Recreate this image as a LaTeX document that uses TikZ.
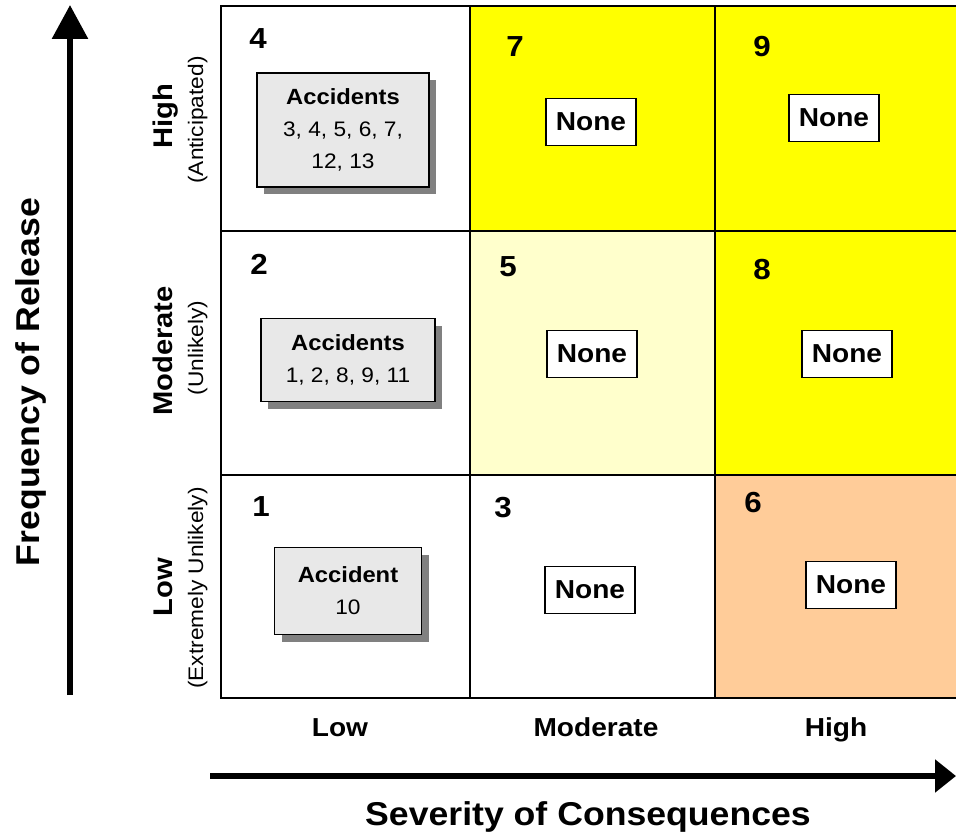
\documentclass[tikz,border=0pt]{standalone}
\usepackage{fontspec}
\setmainfont{Liberation Sans}[FakeStretch=1.08]
\usetikzlibrary{arrows.meta,shadows}
\definecolor{yel}{HTML}{FFFF00}
\definecolor{lyel}{HTML}{FFFFCC}
\definecolor{peach}{HTML}{FFCC99}
\definecolor{boxgray}{HTML}{E8E8E8}
\definecolor{shadowgray}{HTML}{808080}
\begin{document}
\begin{tikzpicture}[x=1pt,y=-1pt,
  gridline/.style={draw=black,line width=2.5pt},
  num/.style={font=\fontsize{29}{30}\selectfont\bfseries,inner sep=0pt},
  acc/.style={draw=black,line width=1.8pt,fill=boxgray,align=center,inner sep=0pt,
    general shadow={fill=shadowgray,shadow xshift=7pt,shadow yshift=-7pt},
    font=\fontsize{21}{32}\selectfont},
  nonebox/.style={draw=black,line width=1.8pt,fill=white,minimum width=90pt,minimum height=47pt,
    inner sep=0pt,font=\fontsize{26}{28}\selectfont\bfseries},
  rowlab/.style={rotate=90,anchor=base,inner sep=0pt,font=\fontsize{27}{29}\selectfont\bfseries},
  rowsub/.style={rotate=90,anchor=base,inner sep=0pt,font=\fontsize{21}{23}\selectfont},
  collab/.style={anchor=base,inner sep=0pt,font=\fontsize{26}{28}\selectfont\bfseries},
  axlab/.style={anchor=base,inner sep=0pt,font=\fontsize{33}{35}\selectfont\bfseries},
  axisline/.style={line width=6pt}
]
\useasboundingbox (0,0) rectangle (956,832);
\fill[white] (0,0) rectangle (956,832);
% cell fills
\fill[yel] (470,6) rectangle (958,231);
\fill[lyel] (470,231) rectangle (715,475);
\fill[yel] (715,231) rectangle (958,475);
\fill[peach] (715,475) rectangle (958,698);
% grid
\draw[gridline] (221,6) rectangle (958,698);
\draw[gridline] (470,6) -- (470,698);
\draw[gridline] (715,6) -- (715,698);
\draw[gridline] (221,231) -- (958,231);
\draw[gridline] (221,475) -- (958,475);
% cell numbers
\node[num] (n4) at (258,39) {4};
\node[num] (n7) at (515,47) {7};
\node[num] (n9) at (762,47) {9};
\node[num] (n2) at (259,264) {2};
\node[num] (n5) at (508,267) {5};
\node[num] (n8) at (762,270) {8};
\node[num] (n1) at (261,507) {1};
\node[num] (n3) at (503,508) {3};
\node[num] (n6) at (753,503) {6};
% accident boxes
\node[acc,minimum width=172pt,minimum height=114pt] (a4) at (343,130)
  {{\bfseries\fontsize{22}{32}\selectfont Accidents}\\3, 4, 5, 6, 7,\\12, 13};
\node[acc,minimum width=174pt,minimum height=83pt] (a2) at (348,360)
  {{\bfseries\fontsize{22}{32}\selectfont Accidents}\\1, 2, 8, 9, 11};
\node[acc,minimum width=147pt,minimum height=87pt] (a1) at (348,591)
  {{\bfseries\fontsize{22}{32}\selectfont Accident}\\10};
% none boxes
\node[nonebox] (b7) at (591,122) {None};
\node[nonebox] (b9) at (834,118) {None};
\node[nonebox] (b5) at (592,354) {None};
\node[nonebox] (b8) at (847,354) {None};
\node[nonebox] (b3) at (590,590) {None};
\node[nonebox] (b6) at (851,585) {None};
% row labels
\node[rowlab] (rhi) at (172,116) {High};
\node[rowsub] (rhis) at (203,120) {(Anticipated)};
\node[rowlab] (rmo) at (172,351) {Moderate};
\node[rowsub] (rmos) at (203,348) {(Unlikely)};
\node[rowlab] (rlo) at (172,587) {Low};
\node[rowsub] (rlos) at (203,588) {(Extremely Unlikely)};
% column labels
\node[collab] (clo) at (340,736) {Low};
\node[collab] (cmo) at (596,736) {Moderate};
\node[collab] (chi) at (836,736) {High};
% axes
\coordinate (vs) at (70,695);
\coordinate (ve) at (70,5);
\draw[axisline,-{Triangle[length=34pt,width=35pt]}] (vs) -- (ve);
\coordinate (hs) at (210,776);
\coordinate (he) at (956,776);
\draw[axisline,-{Triangle[length=21pt,width=32pt]}] (hs) -- (he);
\node[axlab,rotate=90] (freq) at (39,382) {Frequency of Release};
\node[axlab] (sev) at (588,825) {Severity of Consequences};
\end{tikzpicture}
\end{document}
